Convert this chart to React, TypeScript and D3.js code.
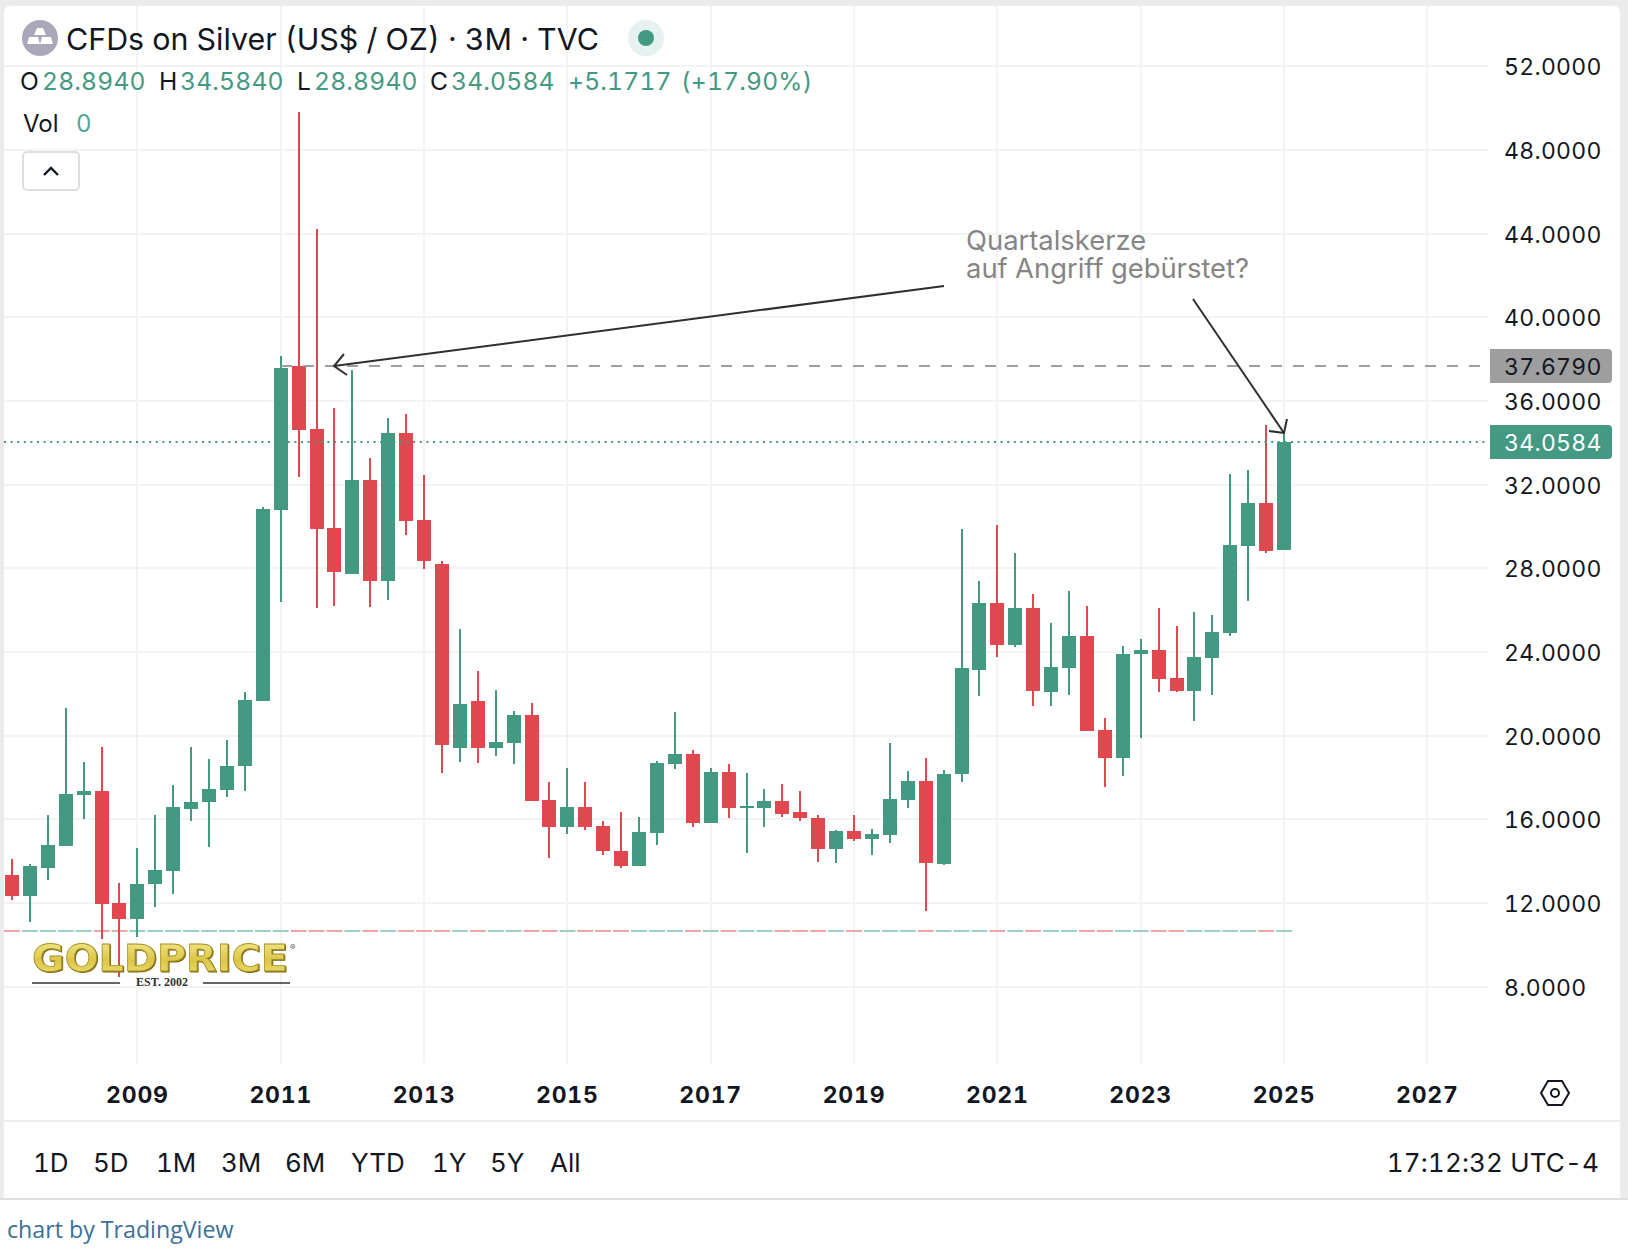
import React, { useEffect, useRef } from 'react';
import * as d3 from 'd3';

const WIDTH = 1628;
const HEIGHT = 1252;

const GREEN = '#449983';
const RED = '#e0484f';
const GRID = '#f3f3f3';
const FONT = 'Inter, "Liberation Sans", sans-serif';

// quarterly candles
const opens = [13.33, 12.32, 13.66, 14.71, 17.15, 17.34, 11.99, 11.22, 12.9, 13.52, 16.48, 16.82, 17.39, 18.54, 21.65, 30.78, 37.66, 34.65, 29.91, 27.72, 32.21, 27.38, 34.45, 30.3, 28.19, 19.4, 21.65, 19.4, 19.64, 20.97, 16.91, 15.62, 16.58, 15.67, 14.47, 13.76, 15.33, 18.63, 19.11, 15.81, 18.25, 16.53, 16.53, 16.87, 16.34, 16.05, 14.57, 15.43, 15.05, 15.24, 16.91, 17.82, 13.85, 18.15, 23.13, 26.33, 24.32, 26.09, 22.07, 23.22, 24.75, 20.26, 18.92, 23.89, 24.08, 22.74, 22.12, 23.7, 24.89, 29.05, 31.11, 28.894];
const highs = [14.09, 13.85, 16.19, 21.31, 18.73, 19.44, 12.94, 14.62, 16.19, 17.63, 19.44, 18.87, 19.78, 22.08, 30.92, 38.14, 49.8, 44.23, 35.65, 37.47, 33.26, 35.17, 35.36, 32.45, 28.34, 25.09, 23.08, 22.17, 21.17, 21.55, 17.77, 18.44, 17.77, 15.91, 16.34, 16.1, 18.78, 21.12, 19.3, 18.44, 18.63, 18.2, 17.44, 17.68, 17.34, 16.19, 15.48, 16.19, 15.53, 19.64, 18.3, 18.92, 18.34, 29.87, 27.38, 30.06, 28.72, 26.76, 25.37, 26.9, 26.19, 20.83, 24.27, 24.6, 26.09, 25.23, 25.9, 25.75, 32.49, 32.68, 34.84, 34.584];
const lows = [12.13, 11.08, 13.09, 14.71, 16.0, 10.27, 8.45, 10.36, 11.79, 12.42, 15.91, 14.67, 17.06, 17.34, 21.65, 26.38, 32.35, 26.09, 26.19, 27.72, 26.14, 26.47, 29.58, 27.95, 18.2, 18.73, 18.68, 19.02, 18.63, 16.87, 14.14, 15.29, 15.48, 14.28, 13.66, 13.76, 14.76, 18.39, 15.62, 15.81, 16.05, 14.38, 15.62, 16.1, 15.91, 13.95, 13.9, 14.95, 14.28, 14.85, 16.53, 11.6, 13.8, 17.77, 21.88, 23.75, 24.22, 21.41, 21.41, 21.93, 20.21, 17.53, 18.06, 19.87, 22.07, 22.07, 20.69, 21.93, 24.75, 26.42, 28.72, 28.894];
const closes = [12.32, 13.76, 14.76, 17.2, 17.34, 11.94, 11.22, 12.9, 13.56, 16.58, 16.82, 17.44, 18.54, 21.69, 30.82, 37.56, 34.6, 29.87, 27.81, 32.21, 27.38, 34.45, 30.25, 28.34, 19.54, 21.5, 19.4, 19.68, 20.97, 16.87, 15.62, 16.58, 15.62, 14.47, 13.76, 15.38, 18.68, 19.11, 15.81, 18.25, 16.53, 16.63, 16.87, 16.24, 16.05, 14.57, 15.43, 15.05, 15.29, 16.96, 17.82, 13.9, 18.15, 23.22, 26.33, 24.32, 26.09, 22.12, 23.27, 24.75, 20.21, 18.92, 23.89, 24.08, 22.69, 22.12, 23.75, 24.94, 29.1, 31.11, 28.81, 34.0584];

const priceTicks = [52, 48, 44, 40, 36, 32, 28, 24, 20, 16, 12, 8];
const yearTicks = [2009, 2011, 2013, 2015, 2017, 2019, 2021, 2023, 2025, 2027];
const rangeButtons = ['1D', '5D', '1M', '3M', '6M', 'YTD', '1Y', '5Y', 'All'];
const rangeButtonX = [33, 93, 156, 221, 285, 351, 432, 490, 550];

const lastClose = 34.0584;
const markedPrice = 37.679;
const lowMark = 10.65;

const legendParts: [string, string, number][] = [
  ['O', '#131722', 20], ['28.8940', GREEN, 42],
  ['H', '#131722', 159], ['34.5840', GREEN, 180],
  ['L', '#131722', 297], ['28.8940', GREEN, 314],
  ['C', '#131722', 430], ['34.0584', GREEN, 451],
  ['+5.1717', GREEN, 568], ['(+17.90%)', GREEN, 681],
];

const SilverChart: React.FC = () => {
  const svgRef = useRef<SVGSVGElement>(null);

  useEffect(() => {
    if (!svgRef.current) return;
    const svg = d3.select(svgRef.current);
    svg.selectAll('*').remove();
    svg.style('font-variant-numeric', 'tabular-nums');

    const x = d3.scaleLinear().domain([0, opens.length - 1]).range([12, 1284]);
    const y = d3.scaleLinear().domain([40, 12]).range([317.2, 903]);
    const py = (v: number) => Math.round(y(v));
    // 2009 sits on candle 7, eight candles to two years
    const yearX = (yr: number) => x(7 + (yr - 2009) * 4);

    const candles = opens.map((o, i) => ({ i, o, h: highs[i], l: lows[i], c: closes[i], up: closes[i] >= o }));

    // frame
    svg.append('rect').attr('width', WIDTH).attr('height', HEIGHT).attr('fill', '#fff');
    svg.append('rect').attr('width', WIDTH).attr('height', 1199).attr('fill', '#ebebeb');
    svg.append('rect').attr('x', 4).attr('y', 6).attr('width', 1616).attr('height', 1193).attr('rx', 6).attr('fill', '#fff');
    svg.append('rect').attr('x', 4).attr('y', 1190).attr('width', 1616).attr('height', 9).attr('fill', '#fff');
    svg.append('rect').attr('x', 0).attr('y', 1198).attr('width', WIDTH).attr('height', 2).attr('fill', '#dfdfdf');
    svg.append('rect').attr('x', 4).attr('y', 1120).attr('width', 1616).attr('height', 2).attr('fill', '#ececec');

    // grid
    svg.append('g').selectAll('line').data(priceTicks).enter().append('line')
      .attr('x1', 4).attr('x2', 1488)
      .attr('y1', d => py(d)).attr('y2', d => py(d))
      .attr('stroke', GRID).attr('stroke-width', 2);
    svg.append('g').selectAll('line').data(yearTicks).enter().append('line')
      .attr('x1', d => Math.round(yearX(d))).attr('x2', d => Math.round(yearX(d)))
      .attr('y1', 6).attr('y2', 1063)
      .attr('stroke', GRID).attr('stroke-width', 2);

    // pale low mark, one dash per candle
    svg.append('g').selectAll('line').data(candles).enter().append('line')
      .attr('x1', d => x(d.i) - 8).attr('x2', d => x(d.i) + 8)
      .attr('y1', py(lowMark)).attr('y2', py(lowMark))
      .attr('stroke', d => (d.up ? '#9bd0c5' : '#eba6a8')).attr('stroke-width', 2);

    // candles
    const candleG = svg.append('g').selectAll('g').data(candles).enter().append('g')
      .attr('fill', d => (d.up ? GREEN : RED));
    candleG.append('rect')
      .attr('x', d => Math.round(x(d.i)) - 1).attr('width', 2)
      .attr('y', d => py(d.h)).attr('height', d => py(d.l) - py(d.h));
    candleG.append('rect')
      .attr('x', d => Math.round(x(d.i)) - 7).attr('width', 14)
      .attr('y', d => py(Math.max(d.o, d.c)))
      .attr('height', d => Math.max(2, Math.abs(py(d.o) - py(d.c))));

    // price lines
    svg.append('line').attr('x1', 4).attr('x2', 1488)
      .attr('y1', py(lastClose)).attr('y2', py(lastClose))
      .attr('stroke', GREEN).attr('stroke-width', 2).attr('stroke-dasharray', '2 4.6');
    svg.append('line').attr('x1', 281).attr('x2', 1480)
      .attr('y1', py(markedPrice)).attr('y2', py(markedPrice))
      .attr('stroke', '#9e9e9e').attr('stroke-width', 2).attr('stroke-dasharray', '11 11');

    // arrows
    const arrowLine = d3.line();
    const arrows: [number, number][][] = [
      [[944, 286], [334, 366]],
      [[344, 354], [334, 366], [347, 375]],
      [[1193, 299], [1284, 433]],
      [[1287, 419], [1284, 433], [1269, 431]],
    ];
    svg.append('g').selectAll('path').data(arrows).enter().append('path')
      .attr('d', d => arrowLine(d))
      .attr('fill', 'none').attr('stroke', '#2f2f33').attr('stroke-width', 2);

    const note = svg.append('g').attr('font-family', FONT).attr('font-size', 27.4).attr('fill', '#858585');
    note.append('text').attr('x', 966).attr('y', 250).text('Quartalskerze');
    note.append('text').attr('x', 966).attr('y', 278).text('auf Angriff gebürstet?');

    // price axis
    svg.append('g').selectAll('text').data(priceTicks).enter().append('text')
      .attr('x', 1504).attr('y', d => py(d) + 9)
      .attr('font-family', FONT).attr('font-size', 23).attr('letter-spacing', 0.3).attr('fill', '#131722')
      .text(d => d3.format('.4f')(d));

    const tags: [number, string, string][] = [
      [markedPrice, '#9e9e9e', '#131722'],
      [lastClose, GREEN, '#ffffff'],
    ];
    tags.forEach(([v, bg, fg]) => {
      const top = py(v) - 17;
      svg.append('path')
        .attr('d', `M1490,${top}H1608a4,4 0 0 1 4,4V${top + 30}a4,4 0 0 1 -4,4H1490Z`)
        .attr('fill', bg);
      svg.append('text').attr('x', 1504).attr('y', py(v) + 9)
        .attr('font-family', FONT).attr('font-size', 23).attr('letter-spacing', 0.3).attr('fill', fg)
        .text(d3.format('.4f')(v));
    });

    // time axis
    svg.append('g').selectAll('text').data(yearTicks).enter().append('text')
      .attr('x', d => yearX(d)).attr('y', 1103).attr('text-anchor', 'middle')
      .attr('font-family', FONT).attr('font-size', 23).attr('font-weight', 700).attr('letter-spacing', 0.8).attr('fill', '#131722')
      .text(d => d);

    const hex = svg.append('g').attr('fill', 'none').attr('stroke', '#131722').attr('stroke-width', 2);
    hex.append('path').attr('d', 'M1541,1093L1548,1081H1562L1569,1093L1562,1105H1548Z');
    hex.append('circle').attr('cx', 1555).attr('cy', 1093).attr('r', 4);

    // header
    svg.append('circle').attr('cx', 40).attr('cy', 38).attr('r', 18).attr('fill', '#a9a8b8');
    const bars = ['M37,28H43L46,35H34Z', 'M29,37H38L40,44H27Z', 'M42,37H51L53,44H40Z'];
    svg.append('g').selectAll('path').data(bars).enter().append('path')
      .attr('d', d => d).attr('fill', '#fff');
    svg.append('text').attr('x', 66).attr('y', 50)
      .attr('font-family', FONT).attr('font-size', 30.4).attr('fill', '#131722')
      .text('CFDs on Silver (US$ / OZ) · 3M · TVC');
    svg.append('circle').attr('cx', 646).attr('cy', 38).attr('r', 18).attr('fill', '#e5f2ef');
    svg.append('circle').attr('cx', 646).attr('cy', 38).attr('r', 8).attr('fill', GREEN);

    svg.append('g').selectAll('text').data(legendParts).enter().append('text')
      .attr('x', d => d[2]).attr('y', 90)
      .attr('font-family', FONT).attr('font-size', 24.6).attr('letter-spacing', 0.2).attr('fill', d => d[1])
      .text(d => d[0]);

    svg.append('text').attr('x', 23).attr('y', 132)
      .attr('font-family', FONT).attr('font-size', 24).attr('fill', '#131722').text('Vol');
    svg.append('text').attr('x', 76).attr('y', 132)
      .attr('font-family', FONT).attr('font-size', 24).attr('fill', '#53a596').text('0');

    svg.append('rect').attr('x', 23).attr('y', 152).attr('width', 56).attr('height', 38).attr('rx', 4)
      .attr('fill', '#fff').attr('stroke', '#dedede').attr('stroke-width', 2);
    svg.append('path').attr('d', 'M44,175L51,168L58,175')
      .attr('fill', 'none').attr('stroke', '#131722').attr('stroke-width', 2.4);

    // logo
    const defs = svg.append('defs');
    const grad = defs.append('linearGradient').attr('id', 'gold').attr('x1', 0).attr('y1', 0).attr('x2', 0).attr('y2', 1);
    grad.append('stop').attr('offset', '0%').attr('stop-color', '#f6ee98');
    grad.append('stop').attr('offset', '55%').attr('stop-color', '#dcc64a');
    grad.append('stop').attr('offset', '100%').attr('stop-color', '#efe278');
    svg.append('text').attr('x', 32).attr('y', 971)
      .attr('font-family', '"DejaVu Sans", sans-serif').attr('font-size', 38).attr('font-weight', 700)
      .attr('textLength', 256).attr('lengthAdjust', 'spacingAndGlyphs')
      .attr('fill', 'url(#gold)').attr('stroke', '#a8921f').attr('stroke-width', 0.8)
      .style('filter', 'drop-shadow(1px 1px 0 #7c6a16)')
      .text('GOLDPRICE');
    svg.append('text').attr('x', 290).attr('y', 950)
      .attr('font-family', FONT).attr('font-size', 8).attr('fill', '#555').text('®');
    svg.append('text').attr('x', 162).attr('y', 986).attr('text-anchor', 'middle')
      .attr('font-family', '"Liberation Serif", serif').attr('font-size', 12).attr('font-weight', 700).attr('fill', '#333')
      .text('EST. 2002');
    svg.append('line').attr('x1', 32).attr('x2', 120).attr('y1', 983).attr('y2', 983).attr('stroke', '#333').attr('stroke-width', 1.3);
    svg.append('line').attr('x1', 203).attr('x2', 290).attr('y1', 983).attr('y2', 983).attr('stroke', '#333').attr('stroke-width', 1.3);

    // range bar
    svg.append('g').selectAll('text').data(rangeButtons).enter().append('text')
      .attr('x', (_, i) => rangeButtonX[i]).attr('y', 1172)
      .attr('font-family', FONT).attr('font-size', 26).attr('fill', '#131722')
      .text(d => d);
    svg.append('text').attr('x', 1599).attr('y', 1172).attr('text-anchor', 'end')
      .attr('font-family', FONT).attr('font-size', 26).attr('letter-spacing', 0.15).attr('fill', '#131722')
      .text('17:12:32 UTC-4');

    svg.append('text').attr('x', 7).attr('y', 1238)
      .attr('font-family', '"Open Sans", sans-serif').attr('font-size', 23.2).attr('fill', '#3b7097')
      .text('chart by TradingView');
  }, []);

  return (
    <svg ref={svgRef} width={WIDTH} height={HEIGHT}
      style={{ position: 'absolute', left: 0, top: 0, display: 'block' }} />
  );
};

export default function App() {
  return <SilverChart />;
}
